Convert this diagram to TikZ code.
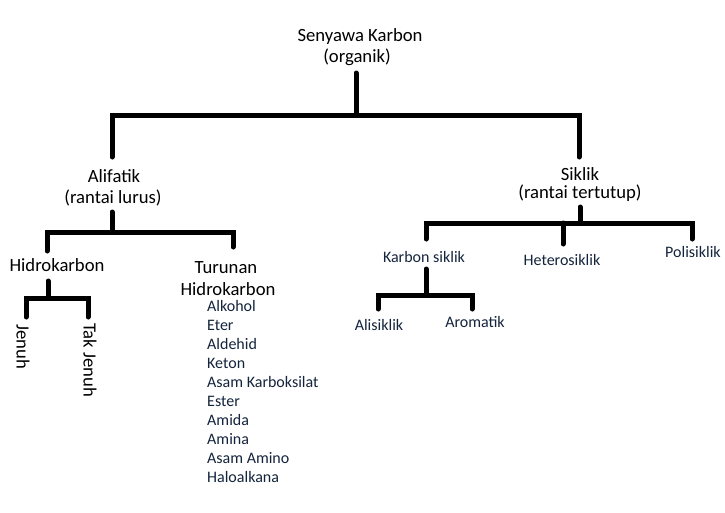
\documentclass[tikz,border=0pt]{standalone}
\usepackage{fontspec}
\setmainfont{Carlito}
\definecolor{navytext}{RGB}{20,36,60}
\begin{document}
\begin{tikzpicture}[x=1pt,y=-1pt,
  big/.style={font=\fontsize{18.67}{22}\selectfont, inner sep=0pt, anchor=base, text=black},
  small/.style={font=\fontsize{16}{19}\selectfont, inner sep=0pt, anchor=base, text=navytext},
  item/.style={small, anchor=base west},
  bar/.style={line width=5pt, line cap=round, line join=miter, draw=black}]
\useasboundingbox[fill=white] (0,0) rectangle (725,512);

% texts
\node[big] (root1) at (360,41) {Senyawa Karbon};
\node[big] (root2) at (357,62) {(organik)};
\node[big] (ali1) at (114,182) {Alifatik};
\node[big] (ali2) at (113,203) {(rantai lurus)};
\node[big] (sik1) at (580,180) {Siklik};
\node[big] (sik2) at (580,198) {(rantai tertutup)};
\node[big] (hid) at (57,271) {Hidrokarbon};
\node[big] (tur1) at (226,273) {Turunan};
\node[big] (tur2) at (228,295) {Hidrokarbon};
\node[big, rotate=-90, anchor=west] (jen) at (23,324) {Jenuh};
\node[big, rotate=-90, anchor=west] (tak) at (90,323) {Tak Jenuh};
\node[item] (l1) at (207,311) {Alkohol};
\node[item] (l2) at (207,330) {Eter};
\node[item] (l3) at (207,349) {Aldehid};
\node[item] (l4) at (207,368) {Keton};
\node[item] (l5) at (207,387) {Asam Karboksilat};
\node[item] (l6) at (207,406) {Ester};
\node[item] (l7) at (207,425) {Amida};
\node[item] (l8) at (207,444) {Amina};
\node[item] (l9) at (207,463) {Asam Amino};
\node[item] (l10) at (207,482) {Haloalkana};
\node[small] (kar) at (424,262) {Karbon siklik};
\node[small] (het) at (562,265) {Heterosiklik};
\node[small] (pol) at (693,257) {Polisiklik};
\node[small] (alis) at (379,330) {Alisiklik};
\node[small] (aro) at (475,327) {Aromatik};

% connector points
\coordinate (rootS) at (356,73);
\coordinate (rootJ) at (356,115);
\coordinate (aliN) at (112,157);
\coordinate (sikN) at (579,157);
\coordinate (aliS) at (112,212);
\coordinate (aliJ) at (112,232);
\coordinate (hidN) at (47,251);
\coordinate (turN) at (233,247);
\coordinate (hidS) at (48,281);
\coordinate (hidJ) at (48,298);
\coordinate (jenN) at (26,317);
\coordinate (takN) at (88,317);
\coordinate (sikS) at (580,207);
\coordinate (sikJ) at (580,223);
\coordinate (karN) at (426,239);
\coordinate (hetN) at (563,244);
\coordinate (polN) at (692,239);
\coordinate (karS) at (426,269);
\coordinate (karJ) at (426,295);
\coordinate (alisN) at (378,309);
\coordinate (aroN) at (472,309);

% connectors
\draw[bar] (rootS) -- (rootJ);
\draw[bar] (aliN) |- (rootJ) -| (sikN);
\draw[bar] (aliS) -- (aliJ);
\draw[bar] (hidN) |- (aliJ) -| (turN);
\draw[bar] (hidS) -- (hidJ);
\draw[bar] (jenN) |- (hidJ) -| (takN);
\draw[bar] (sikS) -- (sikJ);
\draw[bar] (karN) |- (sikJ) -| (polN);
\draw[bar] (sikJ -| hetN) -- (hetN);
\draw[bar] (karS) -- (karJ);
\draw[bar] (alisN) |- (karJ) -| (aroN);
\end{tikzpicture}
\end{document}
